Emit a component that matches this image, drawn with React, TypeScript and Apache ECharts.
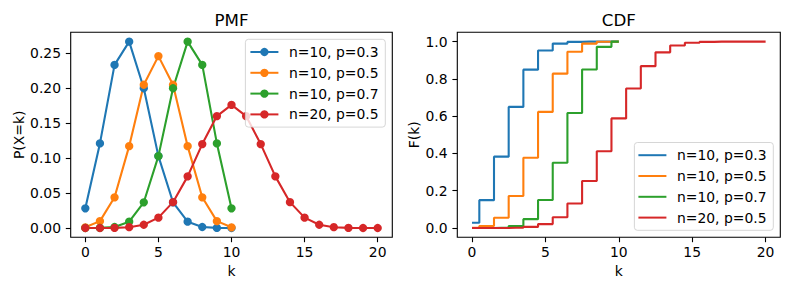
import React, { useEffect, useRef } from "react";
import * as echarts from "echarts";

// Support of k for each distribution
const K_N10 = [0, 1, 2, 3, 4, 5, 6, 7, 8, 9, 10];
const K_N20 = [0, 1, 2, 3, 4, 5, 6, 7, 8, 9, 10, 11, 12, 13, 14, 15, 16, 17, 18, 19, 20];

const LABELS = ["n=10, p=0.3", "n=10, p=0.5", "n=10, p=0.7", "n=20, p=0.5"];
const COLORS = ["#1f77b4", "#ff7f0e", "#2ca02c", "#d62728"];

// Probability mass values P(X=k)
const PMF_10_03 = [0.0282, 0.1211, 0.2335, 0.2668, 0.2001, 0.1029, 0.0368, 0.009, 0.0014, 0.0001, 0.0];
const PMF_10_05 = [0.001, 0.0098, 0.0439, 0.1172, 0.2051, 0.2461, 0.2051, 0.1172, 0.0439, 0.0098, 0.001];
const PMF_10_07 = [0.0, 0.0001, 0.0014, 0.009, 0.0368, 0.1029, 0.2001, 0.2668, 0.2335, 0.1211, 0.0282];
const PMF_20_05 = [
  0.0, 0.0, 0.0002, 0.0011, 0.0046, 0.0148, 0.037, 0.0739, 0.1201, 0.1602, 0.1762,
  0.1602, 0.1201, 0.0739, 0.037, 0.0148, 0.0046, 0.0011, 0.0002, 0.0, 0.0,
];

// Cumulative values F(k)
const CDF_10_03 = [0.0282, 0.1493, 0.3828, 0.6496, 0.8497, 0.9527, 0.9894, 0.9984, 0.9999, 1.0, 1.0];
const CDF_10_05 = [0.001, 0.0107, 0.0547, 0.1719, 0.377, 0.623, 0.8281, 0.9453, 0.9893, 0.999, 1.0];
const CDF_10_07 = [0.0, 0.0001, 0.0016, 0.0106, 0.0473, 0.1503, 0.3504, 0.6172, 0.8507, 0.9718, 1.0];
const CDF_20_05 = [
  0.0, 0.0, 0.0002, 0.0013, 0.0059, 0.0207, 0.0577, 0.1316, 0.2517, 0.4119, 0.5881,
  0.7483, 0.8684, 0.9423, 0.9793, 0.9941, 0.9987, 0.9998, 1.0, 1.0, 1.0,
];

// Tick positions
const X_TICKS = [0, 5, 10, 15, 20];
const PMF_Y_TICKS = [0, 0.05, 0.1, 0.15, 0.2, 0.25];
const CDF_Y_TICKS = [0, 0.2, 0.4, 0.6, 0.8, 1.0];

const FONT = "DejaVu Sans";
const FS = 13.9;

const pmfSets = [
  { k: K_N10, v: PMF_10_03 },
  { k: K_N10, v: PMF_10_05 },
  { k: K_N10, v: PMF_10_07 },
  { k: K_N20, v: PMF_20_05 },
];
const cdfSets = [
  { k: K_N10, v: CDF_10_03 },
  { k: K_N10, v: CDF_10_05 },
  { k: K_N10, v: CDF_10_07 },
  { k: K_N20, v: CDF_20_05 },
];

function valueAxis(gridIndex: number, min: number, max: number, ticks: number[], fmt: (v: number) => string, name: string, nameGap: number, isY: boolean) {
  return {
    type: "value",
    gridIndex,
    min,
    max,
    name,
    nameLocation: "middle",
    nameGap,
    nameRotate: isY ? 90 : 0,
    nameTextStyle: { fontFamily: FONT, fontSize: FS, color: "#000" },
    axisLine: { show: false, onZero: false },
    splitLine: { show: false },
    axisTick: {
      show: true,
      inside: false,
      length: 4.9,
      lineStyle: { color: "#000", width: 1.1 },
      customValues: ticks,
    },
    axisLabel: {
      show: true,
      margin: isY ? 9.7 : 8,
      color: "#000",
      fontFamily: FONT,
      fontSize: FS,
      customValues: ticks,
      formatter: (v: number) => fmt(v),
    },
  };
}

const legendBase = {
  orient: "vertical",
  itemWidth: 28,
  itemGap: 4.8,
  padding: [4.7, 6.8, 4.7, 4],
  backgroundColor: "rgba(255,255,255,0.8)",
  borderColor: "rgba(204,204,204,0.8)",
  borderWidth: 1,
  borderRadius: 3,
  selectedMode: false,
  textStyle: {
    fontFamily: FONT,
    fontSize: FS,
    color: "#000",
    lineHeight: 16,
    padding: [0, 0, 0, 5.6],
  },
};

export default function App() {
  const ref = useRef<HTMLDivElement>(null);

  useEffect(() => {
    if (!ref.current) return;
    const chart = echarts.init(ref.current, null, { renderer: "svg" });

    const series: any[] = [];
    pmfSets.forEach((s, i) => {
      series.push({
        type: "line",
        name: LABELS[i],
        xAxisIndex: 0,
        yAxisIndex: 0,
        data: s.k.map((k, j) => [k, s.v[j]]),
        symbol: "circle",
        symbolSize: 8.3,
        color: COLORS[i],
        itemStyle: { color: COLORS[i], borderWidth: 0 },
        lineStyle: { color: COLORS[i], width: 2.1 },
      });
    });
    cdfSets.forEach((s, i) => {
      series.push({
        type: "line",
        name: LABELS[i],
        xAxisIndex: 1,
        yAxisIndex: 1,
        step: "middle",
        data: s.k.map((k, j) => [k, s.v[j]]),
        symbol: "none",
        showSymbol: false,
        color: COLORS[i],
        lineStyle: { color: COLORS[i], width: 2.1 },
      });
    });

    chart.setOption({
      animation: false,
      textStyle: { fontFamily: FONT },
      title: [
        {
          text: "PMF",
          left: 231.5,
          top: 11,
          padding: 0,
          textAlign: "center",
          textStyle: { fontFamily: FONT, fontSize: 16.7, fontWeight: "normal", color: "#000" },
        },
        {
          text: "CDF",
          left: 618.8,
          top: 11,
          padding: 0,
          textAlign: "center",
          textStyle: { fontFamily: FONT, fontSize: 16.7, fontWeight: "normal", color: "#000" },
        },
      ],
      grid: [
        { left: 70.7, top: 32.3, width: 321.6, height: 205, show: true, borderColor: "#000", borderWidth: 1.1, backgroundColor: "transparent" },
        { left: 457.3, top: 32.3, width: 323, height: 205, show: true, borderColor: "#000", borderWidth: 1.1, backgroundColor: "transparent" },
      ],
      xAxis: [
        valueAxis(0, -1, 21, X_TICKS, (v) => String(v), "k", 27, false),
        valueAxis(1, -1, 21, X_TICKS, (v) => String(v), "k", 27, false),
      ],
      yAxis: [
        valueAxis(0, -0.01334, 0.2802, PMF_Y_TICKS, (v) => v.toFixed(2), "P(X=k)", 45, true),
        valueAxis(1, -0.05, 1.05, CDF_Y_TICKS, (v) => v.toFixed(1), "F(k)", 36, true),
      ],
      legend: [
        {
          ...legendBase,
          right: 403.7,
          top: 39.3,
          itemHeight: 10.4,
          data: LABELS,
        },
        {
          ...legendBase,
          right: 15.7,
          bottom: 59.7,
          itemHeight: 2,
          itemStyle: { borderWidth: 0 },
          data: LABELS.map((n) => ({ name: n, icon: "rect" })),
        },
      ],
      series,
    });

    return () => chart.dispose();
  }, []);

  return (
    <div
      ref={ref}
      style={{ position: "fixed", left: 0, top: 0, width: 789, height: 290, background: "#fff" }}
    />
  );
}
